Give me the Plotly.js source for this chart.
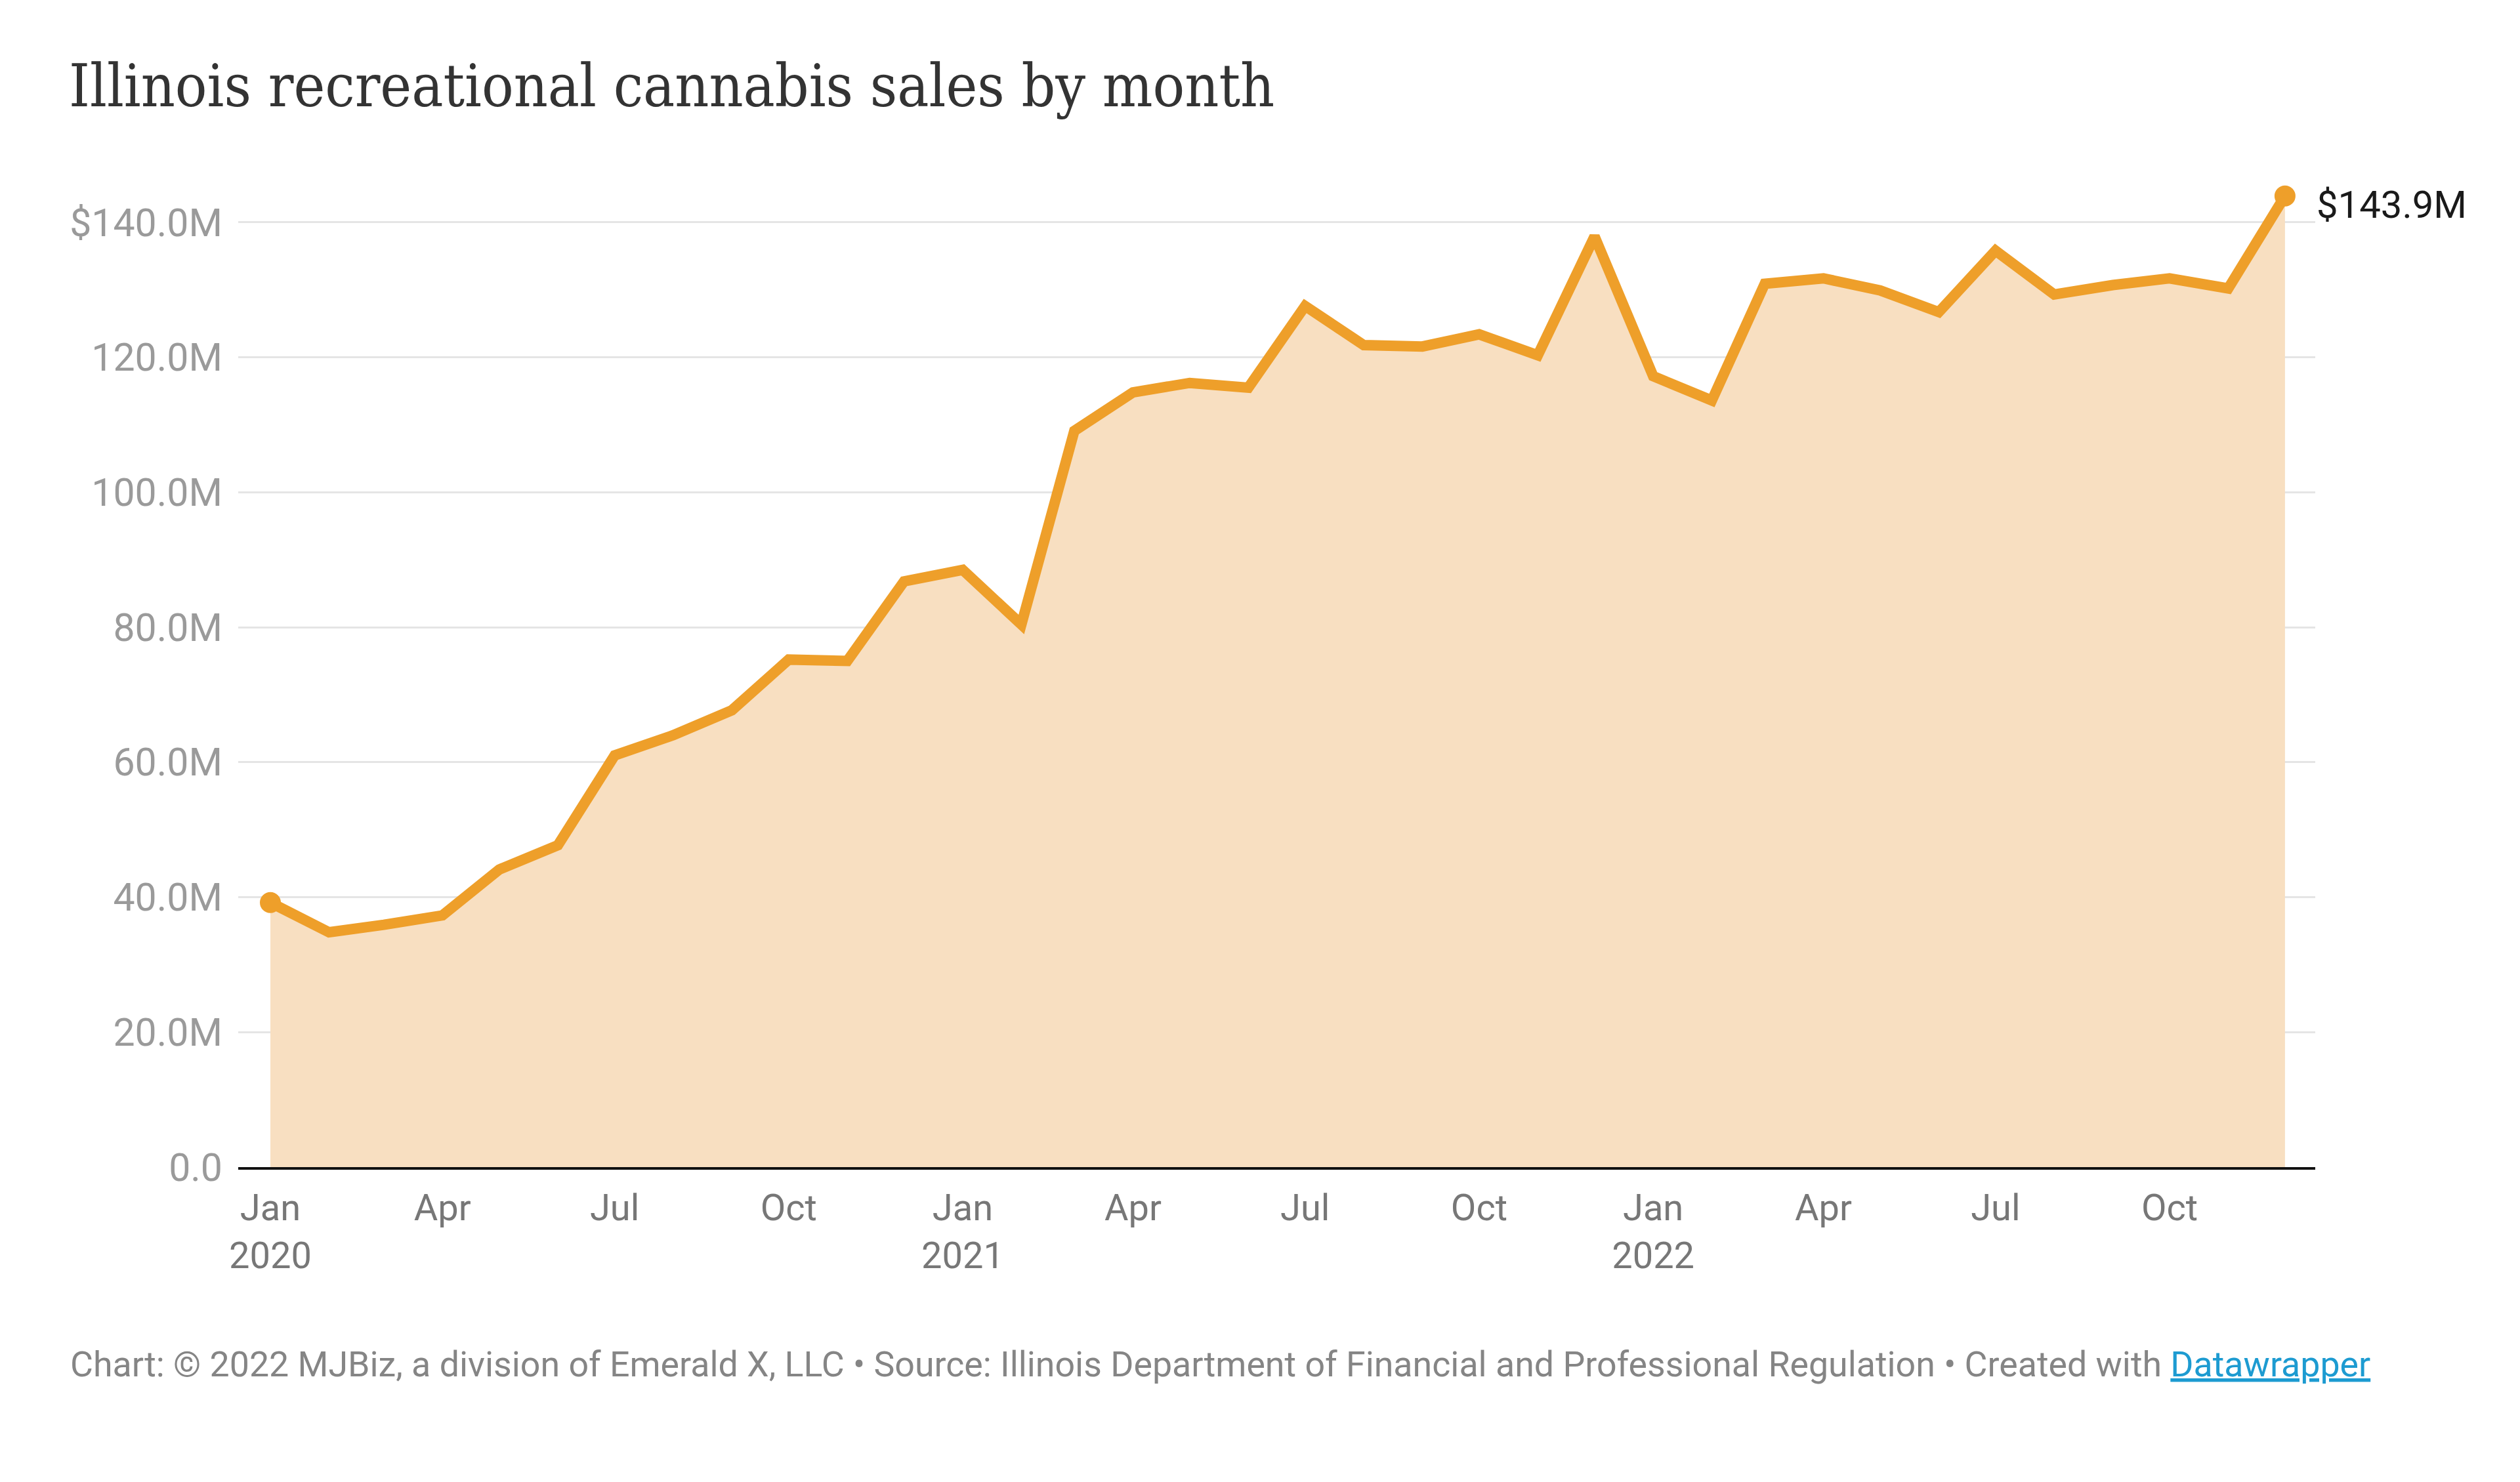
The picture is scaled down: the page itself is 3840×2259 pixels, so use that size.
<!DOCTYPE html>
<html>
<head>
<meta charset="utf-8">
<script src="https://cdn.plot.ly/plotly-3.0.1.min.js"></script>
<style>
    html, body { margin: 0; padding: 0; background: #ffffff; }
</style>
</head>
<body>
<div id="chart"></div>
<script>
// monthly sales, millions of dollars
const months = [
    "2020-01-01", "2020-02-01", "2020-03-01", "2020-04-01", "2020-05-01", "2020-06-01",
    "2020-07-01", "2020-08-01", "2020-09-01", "2020-10-01", "2020-11-01", "2020-12-01",
    "2021-01-01", "2021-02-01", "2021-03-01", "2021-04-01", "2021-05-01", "2021-06-01",
    "2021-07-01", "2021-08-01", "2021-09-01", "2021-10-01", "2021-11-01", "2021-12-01",
    "2022-01-01", "2022-02-01", "2022-03-01", "2022-04-01", "2022-05-01", "2022-06-01",
    "2022-07-01", "2022-08-01", "2022-09-01", "2022-10-01", "2022-11-01", "2022-12-01"
]
const sales = [
    39.2, 34.8, 35.9, 37.3, 44.1, 47.7, 61.0, 64.0, 67.7, 75.2, 75.0, 86.8,
    88.5, 80.4, 109.1, 114.8, 116.2, 115.5, 127.6, 121.8, 121.6, 123.4, 120.3, 137.9,
    117.2, 113.6, 130.9, 131.7, 129.9, 126.7, 135.8, 129.3, 130.7, 131.7, 130.2, 143.9
]

const x_tick_vals = [
    "2020-01-01", "2020-04-01", "2020-07-01", "2020-10-01",
    "2021-01-01", "2021-04-01", "2021-07-01", "2021-10-01",
    "2022-01-01", "2022-04-01", "2022-07-01", "2022-10-01"
]
const x_tick_text = [
    "Jan<br>2020", "Apr", "Jul", "Oct",
    "Jan<br>2021", "Apr", "Jul", "Oct",
    "Jan<br>2022", "Apr", "Jul", "Oct"
]
const y_tick_vals = [0, 20, 40, 60, 80, 100, 120, 140]
const y_tick_text = ["0.0", "20.0M", "40.0M", "60.0M", "80.0M", "100.0M", "120.0M", "$140.0M"]

const last_label = "$143.9M"
const title_text = "Illinois recreational cannabis sales by month"
const footer_text = "Chart: © 2022 MJBiz, a division of Emerald X, LLC • Source: Illinois Department of Financial and Professional Regulation • Created with "
const footer_link = "Datawrapper"

const orange = "#ee9f2a"
const last = sales.length - 1

let data = [
    {
        x: months,
        y: sales,
        type: "scatter",
        mode: "lines",
        fill: "tozeroy",
        fillcolor: "#f8dfc1",
        line: {color: orange, width: 16},
        hoverinfo: "skip",
    },
    {
        // dots on first and last month
        x: [months[0], months[last]],
        y: [sales[0], sales[last]],
        type: "scatter",
        mode: "markers",
        marker: {color: orange, size: 32},
        cliponaxis: false,
        hoverinfo: "skip",
    },
]

let layout = {
    width: 3840,
    height: 2259,
    paper_bgcolor: "#ffffff",
    plot_bgcolor: "#ffffff",
    showlegend: false,
    hovermode: false,
    margin: {l: 363, r: 312, t: 236, b: 480, pad: 0},
    font: {family: "Roboto, sans-serif", size: 56, color: "#777777"},
    title: {
        text: title_text,
        xref: "container",
        yref: "container",
        x: 105 / 3840,
        xanchor: "left",
        y: 1 - 130 / 2259,
        yanchor: "middle",
        font: {family: "DejaVu Serif Condensed, DejaVu Serif, serif", size: 90, color: "#333333"},
    },
    xaxis: {
        type: "date",
        range: ["2019-12-15", "2022-12-17"],
        tickvals: x_tick_vals,
        ticktext: x_tick_text,
        tickfont: {family: "Roboto, sans-serif", size: 56, color: "#777777"},
        ticks: "",
        ticklabelstandoff: 10,
        showgrid: false,
        zeroline: false,
        showline: true,
        linecolor: "#111111",
        linewidth: 4,
        fixedrange: true,
    },
    yaxis: {
        range: [0, 150],
        tickvals: y_tick_vals,
        ticktext: y_tick_text,
        tickfont: {family: "Roboto, sans-serif", size: 59, color: "#9a9a9a"},
        ticks: "",
        ticklabelstandoff: 23,
        showgrid: true,
        gridcolor: "#e5e5e5",
        gridwidth: 3,
        zeroline: false,
        showline: false,
        fixedrange: true,
    },
    annotations: [
        {
            x: months[last],
            y: sales[last],
            xref: "x",
            yref: "y",
            text: last_label,
            showarrow: false,
            xanchor: "left",
            yanchor: "middle",
            xshift: 46,
            yshift: -13,
            font: {family: "Roboto, sans-serif", size: 58, color: "#1a1a1a"},
        },
        {
            x: (105 - 363) / 3165,
            y: (1779 - 2079) / 1543,
            xref: "paper",
            yref: "paper",
            text: footer_text + "<span style=\"color:#1d9bd1;text-decoration:underline\">" + footer_link + "</span>",
            showarrow: false,
            xanchor: "left",
            yanchor: "middle",
            font: {family: "Roboto, sans-serif", size: 53.7, color: "#858585"},
        },
    ],
}

let config = {
    staticPlot: true,
    displayModeBar: false,
}

Plotly.newPlot(document.getElementById("chart"), data, layout, config)
</script>
</body>
</html>
